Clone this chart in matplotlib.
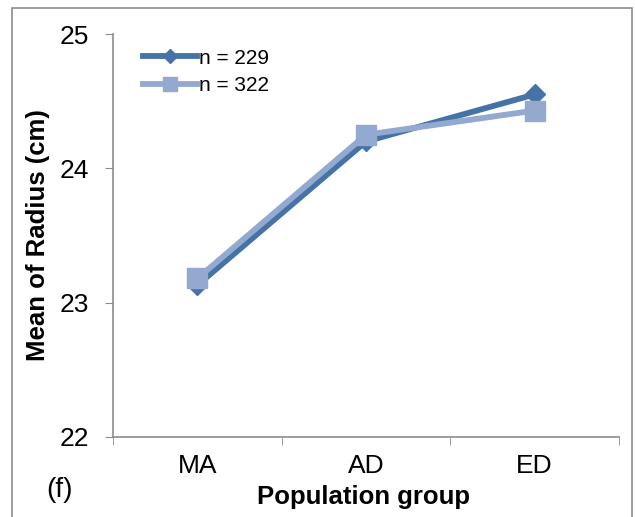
import matplotlib
matplotlib.use("Agg")
import matplotlib.pyplot as plt
from matplotlib.patches import Rectangle

plt.rcParams['font.family'] = ['Liberation Sans', 'DejaVu Sans']

groups = ["MA", "AD", "ED"]
mean_229 = [23.13, 24.20, 24.55]
mean_322 = [23.18, 24.25, 24.43]
yticks = [22, 23, 24, 25]

W, H = 635, 517
fig = plt.figure(figsize=(W / 100, H / 100), dpi=100)

# outer chart frame (Excel style)
fig.patches.append(Rectangle((12 / W, -0.05), 620 / W, (H - 8) / H + 0.05,
                             transform=fig.transFigure, fill=False,
                             edgecolor="#8c8c8c", linewidth=1.2))

ax = fig.add_axes([113 / W, (H - 437) / H, (619 - 113) / W, (437 - 34) / H])
x = list(range(len(groups)))

ax.plot(x, mean_229, color="#4572A7", linewidth=4.2, marker="D",
        markersize=10, label="n = 229", zorder=3)
ax.plot(x, mean_322, color="#93A9CF", linewidth=4.2, marker="s",
        markersize=14, label="n = 322", zorder=4)

ax.set_xlim(-0.5, 2.5)
ax.set_ylim(22, 25)
ax.set_yticks(yticks)
ax.set_xticks(x)
ax.set_xticklabels(groups)
ax.set_xticks([-0.5, 0.5, 1.5, 2.5], minor=True)
ax.tick_params(axis="x", which="major", length=0, pad=12, labelsize=19)
ax.tick_params(axis="x", which="minor", length=6, color="#8c8c8c", direction="out")
ax.tick_params(axis="y", length=6, color="#8c8c8c", direction="out",
               labelsize=19, pad=11)

for s in ["top", "right"]:
    ax.spines[s].set_visible(False)
for s in ["left", "bottom"]:
    ax.spines[s].set_color("#8c8c8c")
    ax.spines[s].set_linewidth(1.2)

ax.set_ylabel("Mean of Radius (cm)", fontsize=18.5, fontweight="bold")
ax.yaxis.set_label_coords(-0.124, 0.50)
ax.set_xlabel("Population group", fontsize=18.5, fontweight="bold")
ax.xaxis.set_label_coords(0.495, -0.118)

ax.legend(loc="upper left", bbox_to_anchor=(0.022, 1.01), frameon=False,
          fontsize=15, handlelength=2.6, handletextpad=0.1, labelspacing=0.4,
          markerscale=0.7)

fig.text(60 / W, 1 - 490 / H, "(f)", fontsize=20, ha="center", va="center")

fig.savefig("out.png", dpi=100)
